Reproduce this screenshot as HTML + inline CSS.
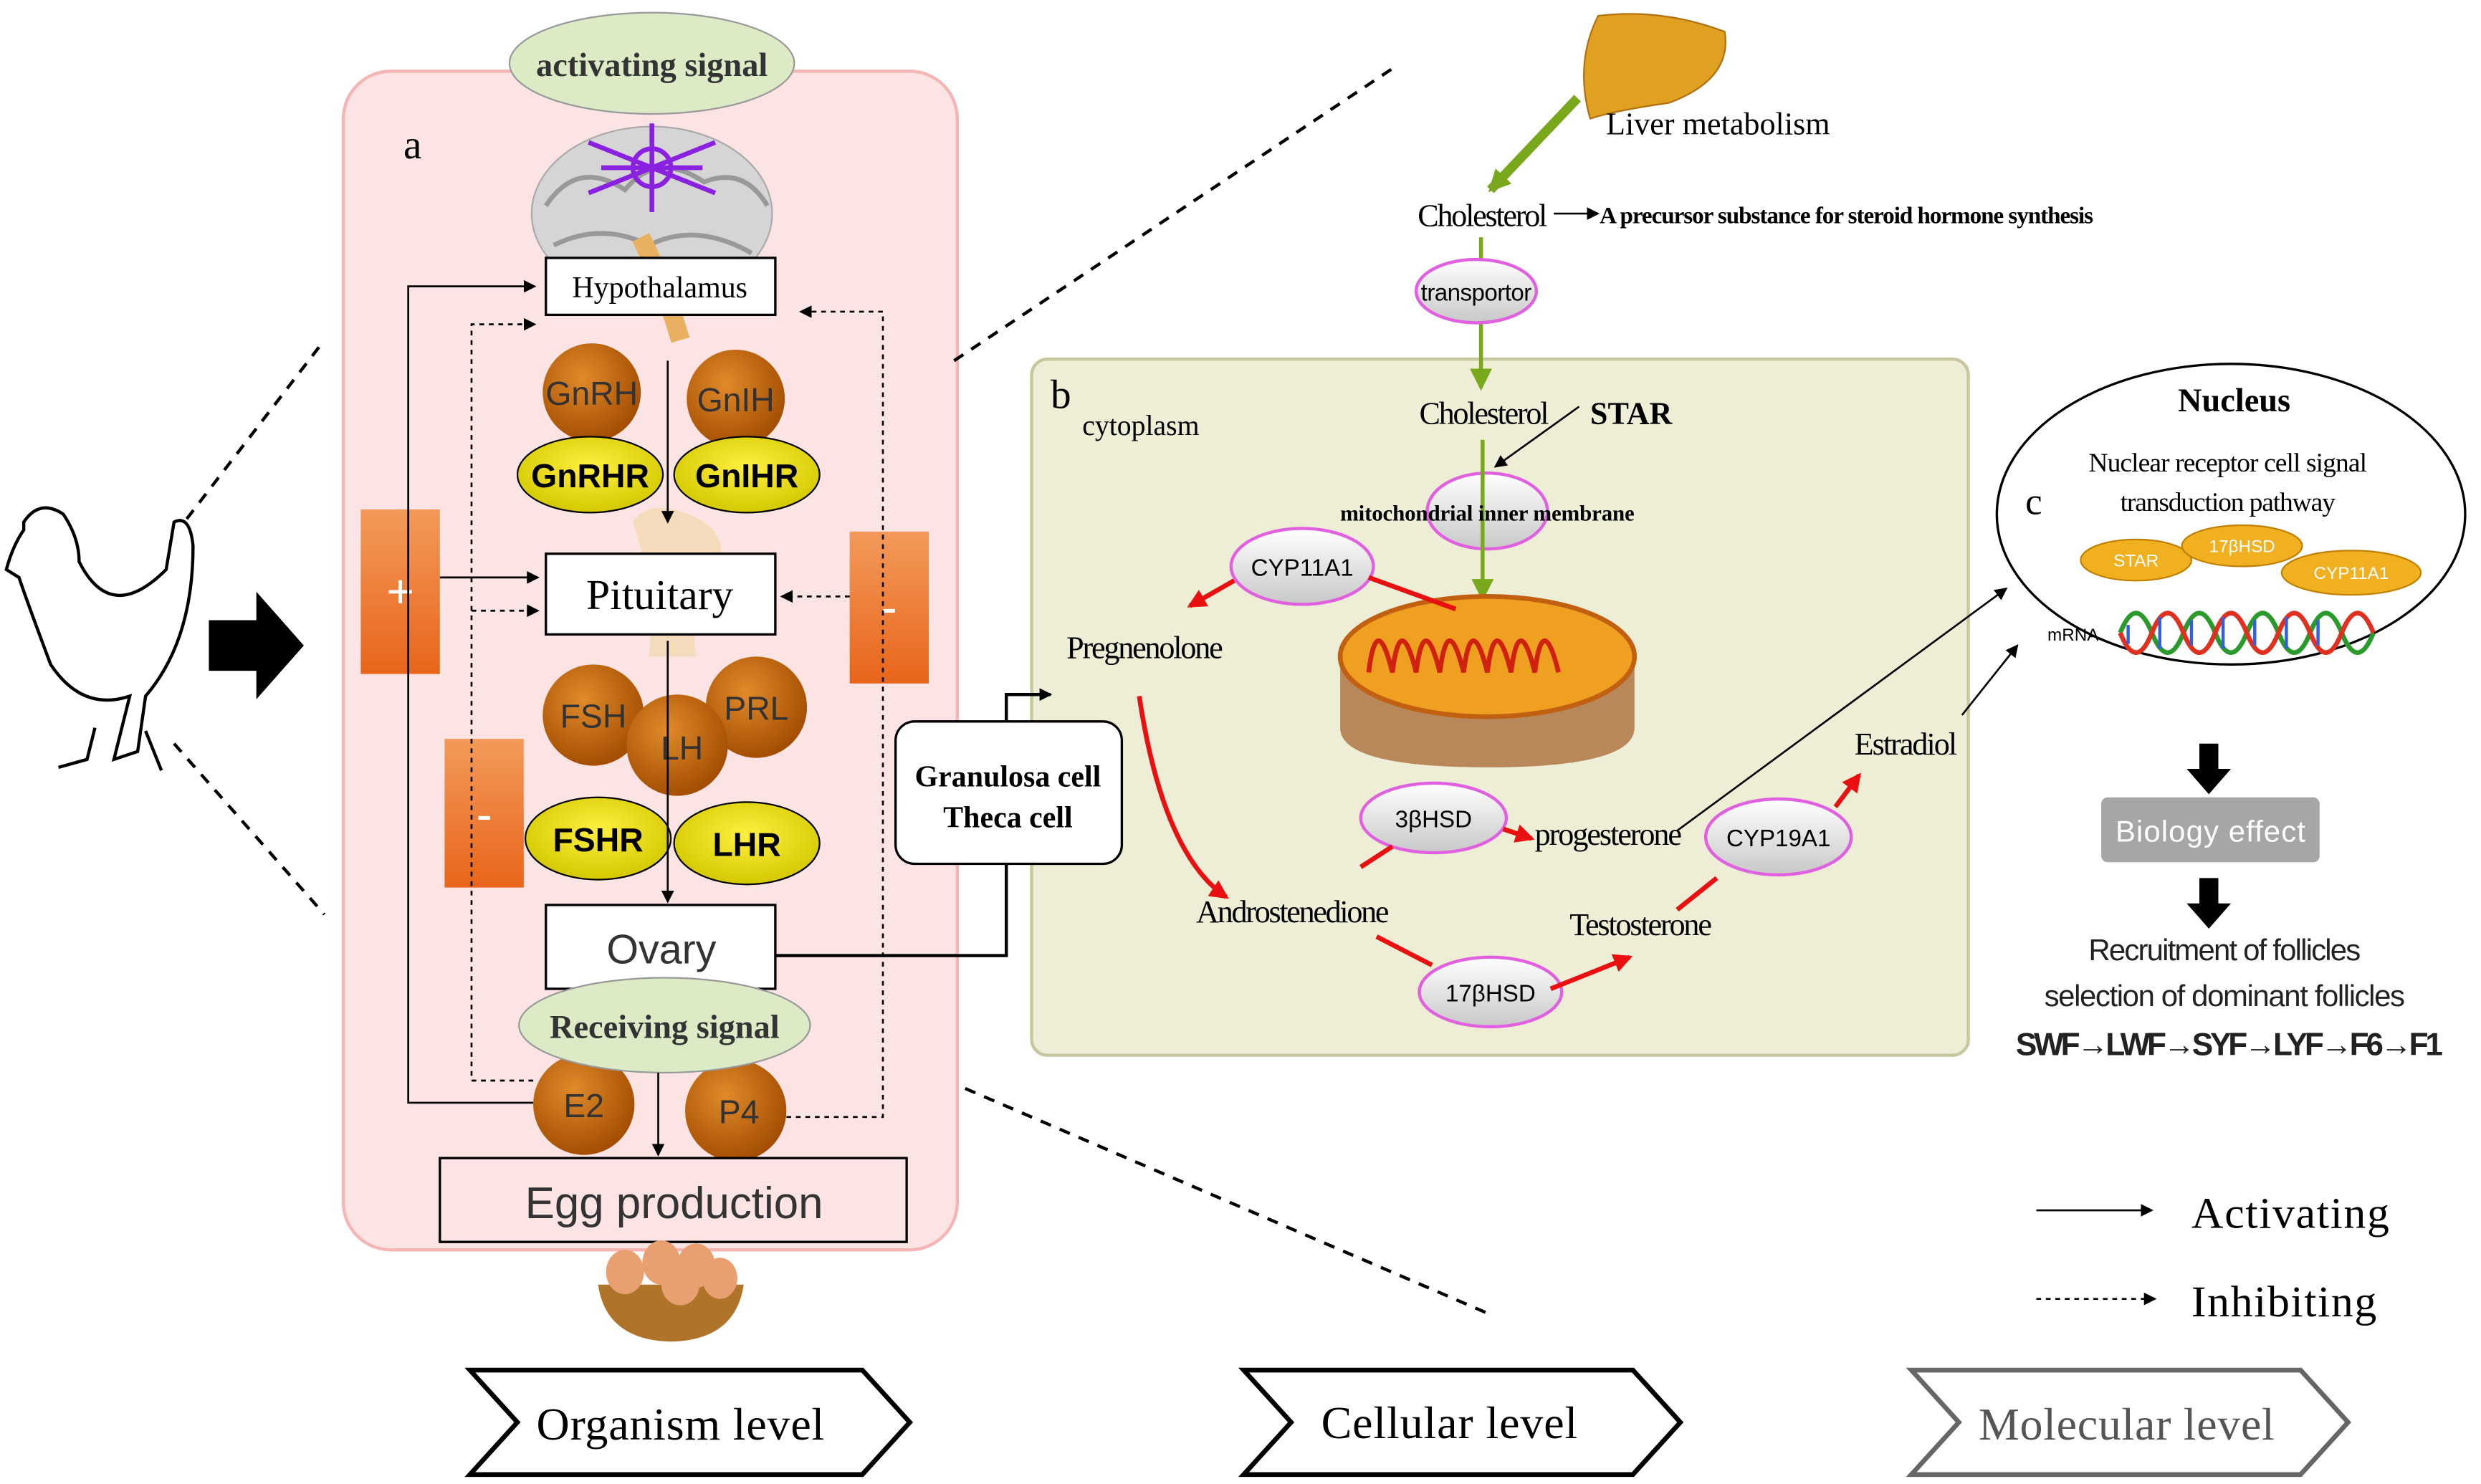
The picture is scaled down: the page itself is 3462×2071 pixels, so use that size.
<!DOCTYPE html>
<html><head><meta charset="utf-8"><style>html,body{margin:0;padding:0;background:#fff}svg{display:block}</style></head><body>
<svg width="3462" height="2071" viewBox="0 0 1568 938" xmlns="http://www.w3.org/2000/svg" font-family="Liberation Serif, serif">
<defs>
<marker id="ah" markerWidth="8" markerHeight="8" refX="7" refY="4" orient="auto" markerUnits="userSpaceOnUse"><path d="M0,0L8,4L0,8z" fill="#000"/></marker>
<marker id="rh" markerWidth="12" markerHeight="12" refX="10" refY="6" orient="auto" markerUnits="userSpaceOnUse"><path d="M0,0L12,6L0,12z" fill="#e81010"/></marker>
<marker id="gh" markerWidth="14" markerHeight="14" refX="12" refY="7" orient="auto" markerUnits="userSpaceOnUse"><path d="M0,0L14,7L0,14z" fill="#7aa81c"/></marker>
<radialGradient id="ball" cx="0.4" cy="0.35" r="0.7"><stop offset="0" stop-color="#e08a2a"/><stop offset="1" stop-color="#a04a00"/></radialGradient>
<radialGradient id="yel" cx="0.5" cy="0.4" r="0.6"><stop offset="0" stop-color="#fff040"/><stop offset="1" stop-color="#d4c800"/></radialGradient>
<linearGradient id="pill" x1="0" y1="0" x2="0" y2="1"><stop offset="0" stop-color="#fff"/><stop offset="1" stop-color="#c8c8c8"/></linearGradient>
<linearGradient id="orb" x1="0" y1="0" x2="0" y2="1"><stop offset="0" stop-color="#f39a5a"/><stop offset="1" stop-color="#e8651a"/></linearGradient>
</defs>

<rect x="217" y="45" width="388" height="745" rx="30" fill="#fde4e4" stroke="#f5b5b5" stroke-width="2"/>
<ellipse cx="412" cy="40" rx="90" ry="32" fill="#dcebc6" stroke="#999"/>
<text x="412" y="48" text-anchor="middle" font-weight="bold" font-size="21" fill="#333">activating signal</text>
<text x="255" y="100" font-size="26">a</text>
<ellipse cx="412" cy="135" rx="76" ry="55" fill="#d5d5d5" stroke="#aaa"/>
<path d="M345,130 q20,-30 50,-10 q20,-25 50,-5 q25,-10 40,15 M350,155 q30,-15 60,0 q30,-15 65,5" stroke="#999" fill="none" stroke-width="3"/>
<path d="M405,150 q15,30 25,65" stroke="#e8b060" stroke-width="12" fill="none"/>
<g stroke="#8a20e0" stroke-width="3" fill="none"><circle cx="412" cy="106" r="12"/><path d="M372,90L452,122M372,122L452,90M412,78V134M380,106H444"/></g>
<rect x="345" y="163" width="145" height="36" fill="#fff" stroke="#000" stroke-width="1.5"/>
<text x="417" y="188" text-anchor="middle" font-size="19">Hypothalamus</text>
<g fill="url(#ball)"><circle cx="374" cy="248" r="31"/><circle cx="465" cy="252" r="31"/><circle cx="375" cy="452" r="32"/><circle cx="478" cy="447" r="32"/><circle cx="428" cy="471" r="32"/><circle cx="369" cy="698" r="32"/><circle cx="465" cy="702" r="32"/></g>
<g font-family="Liberation Sans, sans-serif" font-size="21" fill="#333" text-anchor="middle"><text x="374" y="256">GnRH</text><text x="465" y="260">GnIH</text><text x="375" y="460">FSH</text><text x="478" y="455">PRL</text><text x="431" y="480">LH</text><text x="369" y="706">E2</text><text x="467" y="710">P4</text></g>
<g fill="url(#yel)" stroke="#000"><ellipse cx="373" cy="300" rx="46" ry="24"/><ellipse cx="472" cy="300" rx="46" ry="24"/><ellipse cx="378" cy="530" rx="46" ry="26"/><ellipse cx="472" cy="533" rx="46" ry="26"/></g>
<g font-family="Liberation Sans, sans-serif" font-size="21" font-weight="bold" text-anchor="middle"><text x="373" y="308">GnRHR</text><text x="472" y="308">GnIHR</text><text x="378" y="538">FSHR</text><text x="472" y="541">LHR</text></g>
<path d="M400,330 q10,-15 35,-5 q25,10 20,30 q-20,25 -15,60 h-30 q5,-40 -10,-85z" fill="#f0d8b0" opacity="0.8"/>
<rect x="345" y="350" width="145" height="51" fill="#fff" stroke="#000" stroke-width="1.5"/>
<text x="417" y="385" text-anchor="middle" font-size="27">Pituitary</text>
<rect x="345" y="572" width="145" height="53" fill="#fff" stroke="#000" stroke-width="1.5"/>
<text x="418" y="609" text-anchor="middle" font-family="Liberation Sans, sans-serif" font-size="26" fill="#333">Ovary</text>
<ellipse cx="420" cy="648" rx="92" ry="30" fill="#dcebc6" stroke="#999"/>
<text x="420" y="656" text-anchor="middle" font-weight="bold" font-size="21" fill="#333">Receiving signal</text>
<rect x="278" y="732" width="295" height="53" fill="#fde4e4" stroke="#000" stroke-width="1.5"/>
<text x="426" y="770" text-anchor="middle" font-family="Liberation Sans, sans-serif" font-size="28" fill="#333">Egg production</text>
<path d="M378,812 h92 q-5,35 -46,36 q-41,-1 -46,-36z" fill="#b0732a"/>
<g fill="#e8a070"><ellipse cx="395" cy="804" rx="12" ry="14"/><ellipse cx="418" cy="798" rx="12" ry="14"/><ellipse cx="440" cy="800" rx="12" ry="14"/><ellipse cx="455" cy="808" rx="11" ry="13"/><ellipse cx="430" cy="812" rx="12" ry="13"/></g>
<rect x="228" y="322" width="50" height="104" fill="url(#orb)"/><text x="253" y="384" text-anchor="middle" fill="#fff" font-size="30" font-family="Liberation Sans, sans-serif">+</text>
<rect x="537" y="336" width="50" height="96" fill="url(#orb)"/><text x="562" y="394" text-anchor="middle" fill="#fff" font-size="30" font-family="Liberation Sans, sans-serif">-</text>
<rect x="281" y="467" width="50" height="94" fill="url(#orb)"/><text x="306" y="525" text-anchor="middle" fill="#fff" font-size="30" font-family="Liberation Sans, sans-serif">-</text>
<g stroke="#000" stroke-width="1.2" fill="none">
<path d="M337,697H258V181H338" marker-end="url(#ah)"/>
<path d="M278,365H340" marker-end="url(#ah)"/>
<path d="M422,228V330" marker-end="url(#ah)"/>
<path d="M422,405V570" marker-end="url(#ah)"/>
<path d="M416,678V730" marker-end="url(#ah)"/>
<g stroke-dasharray="3,3"><path d="M337,683H298V205H338" marker-end="url(#ah)"/><path d="M298,386H340" marker-end="url(#ah)"/><path d="M497,706H558V197H506" marker-end="url(#ah)"/><path d="M537,377H494" marker-end="url(#ah)"/></g>
</g>
<g stroke="#000" stroke-width="2" fill="none"><path d="M15,330 q10,-15 25,-5 q10,15 10,30 q20,40 55,5 l5,-30 q10,-5 12,15 q0,60 -30,95 l-5,35 l-15,5 l10,-40 q-30,10 -50,-20 q-15,-40 -20,-55 l-8,-5 q4,-15 11,-25z"/><path d="M92,462 l10,25 M60,460 l-5,20 l-18,5"/></g>
<path d="M132,392h30v-18l30,34l-30,34v-18h-30z" fill="#000"/>
<g stroke="#000" stroke-width="2" stroke-dasharray="7,6"><path d="M118,328L205,215"/><path d="M110,470L205,578"/><path d="M603,228L882,42"/><path d="M610,688L940,830"/></g>

<rect x="652" y="227" width="592" height="440" rx="10" fill="#eeeed6" stroke="#c8c8a0" stroke-width="2"/>
<path d="M490,604H636V439H664" stroke="#000" stroke-width="2" fill="none" marker-end="url(#ah)"/>
<rect x="566" y="456" width="143" height="90" rx="12" fill="#fff" stroke="#000" stroke-width="1.5"/>
<text x="637" y="497" text-anchor="middle" font-weight="bold" font-size="19">Granulosa cell</text>
<text x="637" y="523" text-anchor="middle" font-weight="bold" font-size="19">Theca cell</text>
<text x="664" y="258" font-size="26">b</text><text x="684" y="275" font-size="18">cytoplasm</text>
<path d="M1010,10 q40,-5 80,10 q5,30 -35,45 q-35,5 -50,10 q-10,-35 5,-65z" fill="#e0a020" stroke="#b07010"/>
<text x="1015" y="85" font-size="20">Liver metabolism</text>
<path d="M997,62L942,120" stroke="#7aa81c" stroke-width="6" marker-end="url(#gh)"/>
<text x="896" y="143" font-size="20" textLength="82">Cholesterol</text>
<path d="M982,135H1010" stroke="#000" stroke-width="1.2" marker-end="url(#ah)"/>
<text x="1011" y="141" font-size="15" font-weight="bold" textLength="312">A precursor substance for steroid hormone synthesis</text>
<path d="M936,150V245" stroke="#7aa81c" stroke-width="2.5" marker-end="url(#gh)"/>
<g fill="url(#pill)" stroke="#e060e0" stroke-width="2"><ellipse cx="933" cy="184" rx="38" ry="20"/><ellipse cx="940" cy="323" rx="38" ry="24"/><ellipse cx="823" cy="358" rx="45" ry="24"/><ellipse cx="906" cy="517" rx="46" ry="22"/><ellipse cx="942" cy="627" rx="45" ry="22"/><ellipse cx="1124" cy="529" rx="46" ry="24"/></g>
<text x="933" y="190" text-anchor="middle" font-family="Liberation Sans, sans-serif" font-size="15" textLength="70">transportor</text>
<text x="897" y="268" font-size="20" textLength="82">Cholesterol</text><text x="1005" y="268" font-size="20" font-weight="bold">STAR</text>
<path d="M998,257L945,295" stroke="#000" stroke-width="1.2" marker-end="url(#ah)"/>
<path d="M937,278V378" stroke="#7aa81c" stroke-width="2.5" marker-end="url(#gh)"/>
<text x="940" y="329" text-anchor="middle" font-size="14" font-weight="bold" textLength="186">mitochondrial inner membrane</text>
<path d="M847,415 v45 q0,25 93,25 q93,0 93,-25 v-45z" fill="#b8875a"/>
<ellipse cx="940" cy="415" rx="93" ry="38" fill="#f0a020" stroke="#c06010" stroke-width="3"/>
<path d="M865,425 q5,-40 15,0 q5,-40 15,0 q5,-40 15,0 q5,-40 15,0 q5,-40 15,0 q5,-40 15,0 q5,-40 15,0 q5,-40 15,0" stroke="#d02010" stroke-width="3" fill="none"/>
<g font-family="Liberation Sans, sans-serif" font-size="15" text-anchor="middle"><text x="823" y="364">CYP11A1</text><text x="906" y="523">3βHSD</text><text x="942" y="633">17βHSD</text><text x="1124" y="535">CYP19A1</text></g>
<g stroke="#e81010" stroke-width="3" fill="none">
<path d="M780,367L752,383" marker-end="url(#rh)"/><path d="M865,365L920,385"/>
<path d="M720,440 q15,100 55,127" marker-end="url(#rh)"/>
<path d="M860,548L880,535"/><path d="M950,524L968,530" marker-end="url(#rh)"/>
<path d="M870,592L905,610"/><path d="M980,625L1030,605" marker-end="url(#rh)"/>
<path d="M1060,575L1085,555"/><path d="M1160,510L1175,490" marker-end="url(#rh)"/>
</g>
<g font-size="20"><text x="674" y="416" textLength="99">Pregnenolone</text><text x="756" y="583" textLength="122">Androstenedione</text><text x="970" y="534" textLength="93">progesterone</text><text x="992" y="591" textLength="90">Testosterone</text><text x="1172" y="477" textLength="65">Estradiol</text></g>
<path d="M1060,525L1268,372" stroke="#000" stroke-width="1.2" marker-end="url(#ah)"/>
<path d="M1240,452L1275,408" stroke="#000" stroke-width="1.2" marker-end="url(#ah)"/>
<ellipse cx="1410" cy="325" rx="148" ry="95" fill="#fff" stroke="#000" stroke-width="1.5"/>
<text x="1412" y="260" text-anchor="middle" font-weight="bold" font-size="21">Nucleus</text>
<text x="1408" y="298" text-anchor="middle" font-size="17" textLength="176">Nuclear receptor cell signal</text>
<text x="1408" y="323" text-anchor="middle" font-size="17" textLength="136">transduction pathway</text>
<text x="1280" y="325" font-size="24">c</text>
<g fill="#f0b020" stroke="#c08000"><ellipse cx="1350" cy="354" rx="35" ry="13"/><ellipse cx="1417" cy="345" rx="38" ry="13"/><ellipse cx="1486" cy="362" rx="44" ry="14"/></g>
<g font-family="Liberation Sans, sans-serif" font-size="11" text-anchor="middle" fill="#fff"><text x="1350" y="358">STAR</text><text x="1417" y="349">17βHSD</text><text x="1486" y="366">CYP11A1</text></g>
<text x="1294" y="405" font-family="Liberation Sans, sans-serif" font-size="11">mRNA</text>
<g stroke-width="3" fill="none"><path d="M1340,400 q10,-25 20,0 t20,0 t20,0 t20,0 t20,0 t20,0 t20,0 t20,0" stroke="#2a9a2a"/><path d="M1340,400 q10,25 20,0 t20,0 t20,0 t20,0 t20,0 t20,0 t20,0 t20,0" stroke="#e03020"/><path d="M1345,395 v12 M1365,390 v20 M1385,392 v16 M1405,390 v20 M1425,392 v16 M1445,390 v20 M1465,392 v16" stroke="#3060e0" stroke-width="2"/></g>
<path d="M1390,470h12v16h8l-14,16l-14,-16h8z" fill="#000"/>
<path d="M1390,555h12v16h8l-14,16l-14,-16h8z" fill="#000"/>
<rect x="1328" y="504" width="138" height="41" rx="4" fill="#a6a6a6"/>
<text x="1397" y="532" text-anchor="middle" fill="#fff" font-family="Liberation Sans, sans-serif" font-size="19" textLength="120">Biology effect</text>
<g font-family="Liberation Sans, sans-serif" text-anchor="middle" fill="#222"><text x="1406" y="607" font-size="19" textLength="172">Recruitment of follicles</text><text x="1406" y="636" font-size="19" textLength="228">selection of dominant follicles</text><text x="1409" y="667" font-size="20" font-weight="bold" textLength="270">SWF→LWF→SYF→LYF→F6→F1</text></g>
<path d="M1287,765H1360" stroke="#000" stroke-width="1.2" marker-end="url(#ah)"/>
<path d="M1287,821H1362" stroke="#000" stroke-width="1.2" stroke-dasharray="3,3" marker-end="url(#ah)"/>
<text x="1385" y="776" font-size="28" textLength="125">Activating</text><text x="1385" y="832" font-size="28" textLength="117">Inhibiting</text>
<g fill="#fff" stroke-width="3"><path d="M297,866H545L575,899L545,932H297L327,899z" stroke="#000"/><path d="M786,866H1032L1062,899L1032,932H786L816,899z" stroke="#000"/><path d="M1208,866H1454L1484,899L1454,932H1208L1238,899z" stroke="#666"/></g>
<text x="430" y="910" text-anchor="middle" font-size="29" textLength="182">Organism level</text>
<text x="916" y="909" text-anchor="middle" font-size="29" textLength="162">Cellular level</text>
<text x="1344" y="910" text-anchor="middle" font-size="29" fill="#555" textLength="187">Molecular level</text>
</svg>
</body></html>
